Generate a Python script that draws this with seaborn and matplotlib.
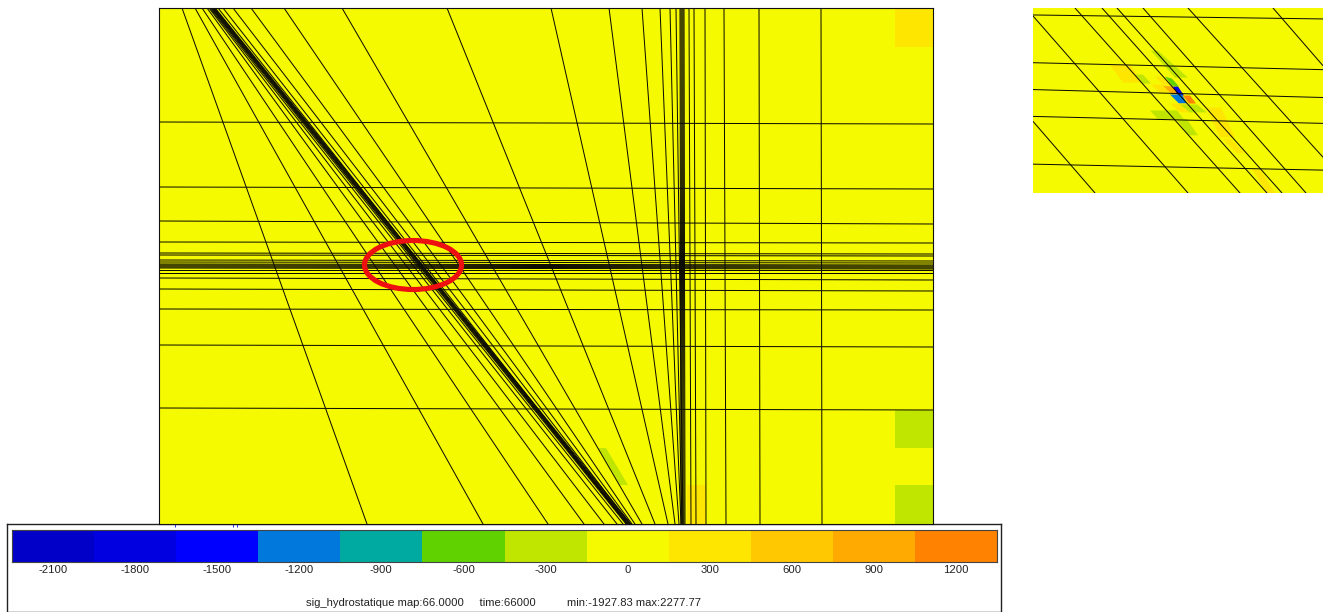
#!/usr/bin/env python3
"""Mesh view of sig_hydrostatique with a zoomed window and a stepped colour bar."""
import numpy as np
import pandas as pd
import seaborn as sns
import matplotlib
matplotlib.use("Agg")
import matplotlib.pyplot as plt
from matplotlib.colors import ListedColormap
from matplotlib.patches import Ellipse

# colour levels
level_labels = [-2100, -1800, -1500, -1200, -900, -600, -300, 0, 300, 600, 900, 1200]
level_colors = ["#0000c8", "#0000e1", "#0000ff", "#0078dc", "#00aaa0", "#5fd200",
                "#c0e600", "#f5fa00", "#ffe600", "#ffc800", "#ffaa00", "#ff8200"]
caption = "sig_hydrostatique map:66.0000     time:66000          min:-1927.83 max:2277.77"

# main mesh: slanted / vertical lines, position at top and bottom edge
slant_top = [182, 195, 202, 207, 209, 210, 211, 211.7, 212.4, 213.1, 213.8, 214.5,
             215.2, 218, 223, 233, 251, 284, 342, 447, 551, 609, 642, 660, 670, 676,
             680, 681, 682, 683, 684, 689, 694, 705, 724, 759, 821]
slant_bottom = [367, 483, 548, 584, 604, 617, 623, 626, 627, 628, 629, 630,
                631, 627, 628, 630, 632, 635, 642, 655, 668, 675, 679, 681, 682, 683,
                681, 682, 683, 684, 685, 691, 696, 706, 726, 760, 822]
# main mesh: horizontal lines, position at left and right edge
row_left = [122, 187, 221, 242, 253, 255, 260, 262, 264, 265, 266, 267, 268, 270, 273, 278, 289, 309, 345, 408]
row_right = [124, 189, 224, 243, 254, 256, 261, 263, 265, 266, 267, 268, 269, 270, 273, 280, 291, 310, 347, 410]
# stray blue ticks under the main view
stray_ticks = [175, 233, 237]

# main field patches away from the zero level: (level index, x points, y points)
main_patches = [
    (8, [895, 933, 933, 895], [8, 8, 47, 47]),
    (6, [895, 933, 933, 895], [410, 410, 448, 448]),
    (6, [895, 933, 933, 895], [485, 485, 524, 524]),
    (8, [687, 706, 706, 687], [485, 485, 524, 524]),
    (6, [598, 606, 628, 620], [448, 448, 485, 485]),
]

# zoom window, read in window pixels (0-290 by 0-186)
zoom_lines_x = [
    [0, 290], [0, 290], [0, 290], [0, 290], [0, 290],
    [0, 155], [0, 62], [42, 207], [69, 234], [84, 249], [110, 273], [155, 290], [240, 290],
]
zoom_lines_y = [
    [7, 11], [55, 62], [82, 90], [109, 116], [157, 163],
    [8, 186], [114, 186], [0, 186], [0, 186], [0, 186], [0, 186], [0, 150], [0, 58],
]
zoom_patches = [
    (6, [118, 125, 155, 142], [43, 43, 70, 70]),
    (8, [77, 97, 110, 90], [57, 57, 75, 75]),
    (6, [102, 110, 118, 110], [67, 67, 76, 76]),
    (8, [122, 128, 137, 130], [69, 69, 77, 77]),
    (8, [118, 130, 137, 127], [77, 77, 85, 85]),
    (5, [132, 139, 146, 139], [69, 71, 79, 78]),
    (10, [130, 140, 147, 139], [78, 79, 87, 87]),
    (1, [140, 145, 151, 145], [79, 79, 88, 88]),
    (3, [137, 149, 154, 146], [87, 87, 96, 96]),
    (11, [150, 157, 163, 156], [88, 88, 96, 96]),
    (8, [137, 155, 165, 147], [96, 96, 105, 105]),
    (6, [147, 164, 174, 157], [97, 97, 105, 105]),
    (6, [117, 144, 151, 125], [103, 103, 112, 112]),
    (6, [144, 154, 165, 155], [112, 112, 128, 128]),
    (8, [173, 188, 202, 187], [100, 100, 130, 130]),
    (8, [190, 198, 212, 204], [132, 132, 146, 146]),
    (8, [219, 227, 242, 234], [162, 162, 186, 186]),
]


def edge_lines(x_pairs, y_pairs):
    # long table so seaborn draws one line per mesh edge
    rows = [pd.DataFrame({"x": xs, "y": ys, "edge": i})
            for i, (xs, ys) in enumerate(zip(x_pairs, y_pairs))]
    return pd.concat(rows, ignore_index=True)


def draw_mesh(ax, frame, width=0.72):
    sns.lineplot(data=frame, x="x", y="y", units="edge", estimator=None, sort=False,
                 color="#0c0c00", linewidth=width, legend=False, ax=ax)
    ax.set_xlabel("")
    ax.set_ylabel("")
    ax.set_xticks([])
    ax.set_yticks([])


def main():
    sns.set_theme(style="white")
    plt.rcParams["font.family"] = ["Liberation Sans", "DejaVu Sans"]
    W, H = 1330, 612
    fig = plt.figure(figsize=(W / 100, H / 100), dpi=100, facecolor="white")

    def box(x0, y0, x1, y1):
        return fig.add_axes([x0 / W, 1 - y1 / H, (x1 - x0) / W, (y1 - y0) / H])

    zero = level_colors[7]

    # main view
    ax = box(159, 8, 933, 524)
    ax.set_zorder(3)
    ax.set_facecolor(zero)
    for idx, xs, ys in main_patches:
        ax.fill(xs, ys, color=level_colors[idx], lw=0, zorder=1)
    slants = edge_lines([[a, b] for a, b in zip(slant_top, slant_bottom)], [[8, 524]] * len(slant_top))
    rows = edge_lines([[159, 933]] * len(row_left), [[a, b] for a, b in zip(row_left, row_right)])
    rows["edge"] += len(slant_top)
    draw_mesh(ax, pd.concat([slants, rows], ignore_index=True))
    ax.add_patch(Ellipse((413, 265), 97, 49, fill=False, ec="#ee1010", lw=3.7, zorder=5))
    ax.set_xlim(159, 933)
    ax.set_ylim(524, 8)
    ax.set_xticks(stray_ticks)
    ax.set_xticklabels([])
    ax.tick_params(axis="x", bottom=True, length=2, width=0.7, color="#3030e0")
    for s in ax.spines.values():
        s.set_visible(True)
        s.set_color("#111111")
        s.set_linewidth(0.8)

    # zoom window
    az = box(1033, 8, 1323, 193)
    az.set_facecolor(zero)
    for idx, xs, ys in zoom_patches:
        az.fill(xs, ys, color=level_colors[idx], lw=0, zorder=1)
    draw_mesh(az, edge_lines(zoom_lines_x, zoom_lines_y))
    az.set_xlim(0, 290)
    az.set_ylim(186, 0)
    for s in az.spines.values():
        s.set_visible(False)

    # colour bar frame and strip
    frame = box(7, 524, 1001, 612)
    frame.set_xticks([])
    frame.set_yticks([])
    frame.set_facecolor("white")
    for s in frame.spines.values():
        s.set_visible(True)
        s.set_color("#222222")
        s.set_linewidth(1.0)
    frame.text(0.5, 0.10, caption, ha="center", va="center", fontsize=8.1,
               transform=frame.transAxes, color="#222222")

    cb = box(12, 530, 997, 562)
    strip = np.arange(len(level_labels)).reshape(1, -1)
    sns.heatmap(strip, cmap=ListedColormap(level_colors), cbar=False, ax=cb,
                xticklabels=level_labels, yticklabels=False)
    cb.tick_params(axis="x", length=0, pad=2, labelsize=8.1, labelrotation=0, colors="#222222")
    for s in cb.spines.values():
        s.set_visible(True)
        s.set_color("#444444")
        s.set_linewidth(0.8)

    fig.savefig("out.png", dpi=100)


if __name__ == "__main__":
    main()
